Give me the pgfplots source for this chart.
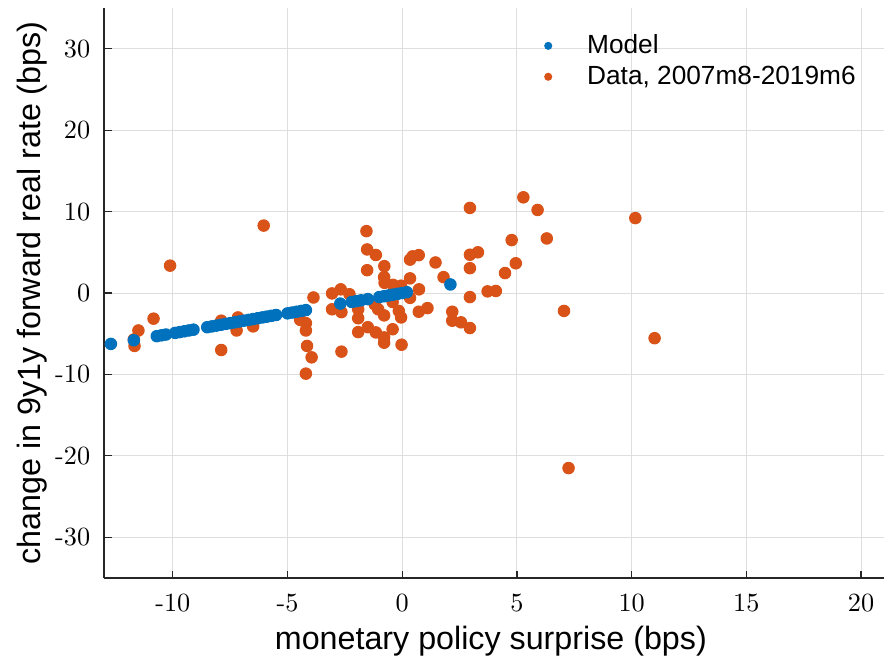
\documentclass[border=0pt]{standalone}
\usepackage{fontspec}
\usepackage{pgfplots}
\usepackage{pgfplotstable}
\pgfplotsset{compat=1.18}
\newfontfamily\arialfont{Liberation Sans}
\definecolor{mblue}{rgb}{0,0.447,0.741}
\definecolor{morange}{rgb}{0.85,0.325,0.098}
\pgfplotstableread{
x y
-12.7 -6.25
-11.7 -5.8
-10.7 -5.3
-10.5 -5.2
-10.3 -5.1
-9.9 -4.9
-9.7 -4.8
-9.5 -4.7
-9.3 -4.6
-9.1 -4.5
-8.5 -4.2
-8.3 -4.1
-8.1 -4.0
-7.9 -3.9
-7.7 -3.8
-7.5 -3.7
-7.3 -3.6
-7.1 -3.5
-6.9 -3.4
-6.7 -3.3
-6.5 -3.2
-6.3 -3.1
-6.1 -3.0
-5.9 -2.9
-5.7 -2.8
-5.5 -2.7
-5.0 -2.5
-4.8 -2.4
-4.6 -2.3
-4.4 -2.2
-4.2 -2.1
-2.7 -1.3
-2.2 -1.1
-2.0 -1.0
-1.8 -0.9
-1.5 -0.75
-1.0 -0.5
-0.8 -0.4
-0.6 -0.3
-0.4 -0.2
-0.2 -0.1
0.0 0.0
0.2 0.1
2.1 1.05
}\modeltable
\pgfplotstableread{
x y
-11.67 -6.5
-11.7 -5.7
-11.5 -4.6
-10.84 -3.15
-10.12 3.36
-7.89 -3.4
-7.16 -3.0
-7.22 -4.6
-6.5 -4.1
-7.89 -7.0
-6.04 8.28
-4.45 -3.3
-4.2 -3.7
-4.2 -4.6
-4.15 -6.5
-3.95 -7.9
-4.2 -9.9
-3.87 -0.55
-3.06 -0.05
-2.68 0.45
-2.3 -0.15
-3.06 -2.0
-2.65 -2.35
-2.65 -7.2
-1.92 -2.0
-1.92 -3.1
-1.92 -4.8
-1.56 7.6
-1.53 5.35
-1.15 4.67
-1.53 2.8
-0.78 3.3
-0.79 1.95
-0.77 1.25
-0.4 1.0
-0.05 0.9
-1.5 -4.2
-1.2 -1.4
-1.05 -2.0
-1.15 -4.84
-0.79 -2.75
-0.79 -5.45
-0.79 -6.1
-0.42 -4.45
-0.42 -1.1
-0.15 -2.2
-0.05 -3.0
-0.03 -6.35
0.34 -0.6
0.34 1.8
0.73 0.45
0.34 4.1
0.45 4.5
0.72 4.65
0.72 -2.3
1.1 -1.85
1.45 3.75
1.8 1.95
2.18 -2.3
2.18 -3.4
2.56 -3.6
2.95 -4.3
2.95 10.45
2.95 4.7
3.3 5.0
2.95 3.05
2.95 -0.5
3.72 0.2
4.08 0.25
4.48 2.45
4.95 3.65
4.77 6.5
5.28 11.75
5.9 10.2
6.3 6.7
7.05 -2.2
7.25 -21.5
10.16 9.2
11.0 -5.55
}\datatable
\begin{document}
\begin{tikzpicture}
\begin{axis}[name=ax, scale only axis, width=312pt, height=228pt,
  xmin=-13, xmax=21, ymin=-35, ymax=35,
  axis x line*=bottom, axis y line*=left,
  xtick={-10,-5,...,20}, ytick={-30,-20,...,30},
  tick align=inside, major tick length=3pt,
  grid=major, grid style={black!13, line width=0.4pt},
  axis line style={black!85, line width=0.5pt, -},
  tick style={black!85, line width=0.5pt},
  /pgf/number format/assume math mode=true,
  ticklabel style={font=\fontsize{10.5}{12}\selectfont},
  xticklabel style={yshift=-3pt},
  yticklabel style={xshift=-2pt},
  xlabel={monetary policy surprise (bps)},
  ylabel={change in 9y1y forward real rate (bps)},
  label style={font=\arialfont\fontsize{12.9}{15}\selectfont},
  xlabel style={at={(axis description cs:0.496,-0.1105)}, anchor=center},
  ylabel style={at={(axis description cs:-0.0923,0.5)}, anchor=center},
  reverse legend,
  legend cell align=left,
  legend style={at={(axis description cs:0.5495,0.972)}, anchor=north west, draw=none, fill=none,
    font=\arialfont\fontsize{10.5}{12}\selectfont, row sep=-0.6pt},
  legend image code/.code={\draw[#1, mark size=1.4pt] plot coordinates {(0cm,0cm)}; \path (-0.1cm,0cm) (0.47cm,0cm);},
]
\addplot[only marks, mark=*, mark size=2.3pt, color=morange, mark options={draw=morange, fill=morange}] table {\datatable};
\addlegendentry{Data, 2007m8-2019m6}
\addplot[only marks, mark=*, mark size=2.3pt, color=mblue, mark options={draw=mblue, fill=mblue}] table {\modeltable};
\addlegendentry{Model}
\end{axis}
\pgfresetboundingbox
\path ([shift={(-41.6pt,-34.4pt)}]ax.south west) rectangle ([shift={(0.4pt,3.2pt)}]ax.north east);
\end{tikzpicture}
\end{document}
